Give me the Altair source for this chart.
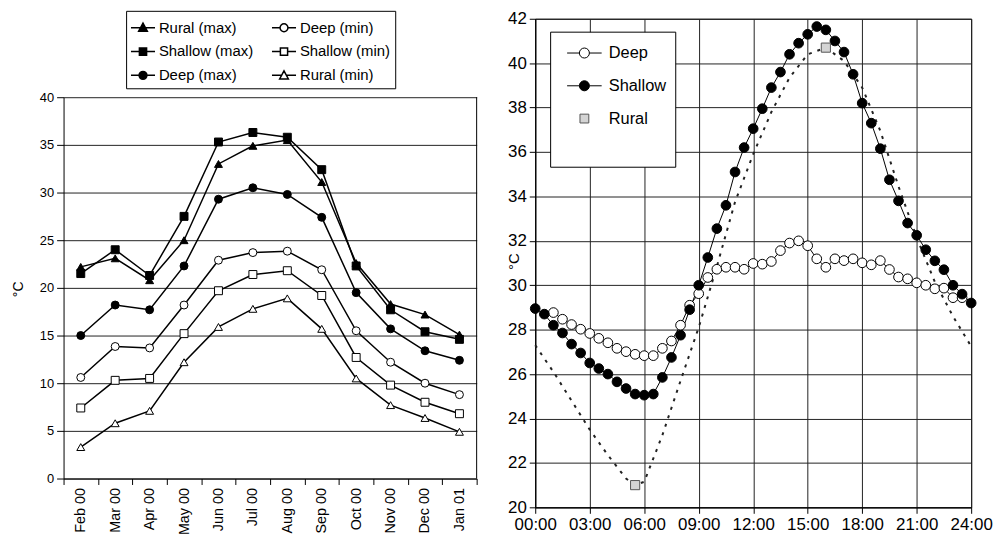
import altair as alt
import pandas as pd

# ---------------- Left chart data (monthly max / min, °C) ----------------
months = ["Feb 00", "Mar 00", "Apr 00", "May 00", "Jun 00", "Jul 00",
          "Aug 00", "Sep 00", "Oct 00", "Nov 00", "Dec 00", "Jan 01"]
rural_max = [22.2, 23.1, 20.8, 25.0, 33.0, 34.9, 35.5, 31.1, 22.6, 18.3, 17.2, 15.1]
shallow_max = [21.5, 24.0, 21.3, 27.5, 35.3, 36.3, 35.8, 32.4, 22.3, 17.7, 15.4, 14.6]
deep_max = [15.0, 18.2, 17.7, 22.3, 29.3, 30.5, 29.8, 27.4, 19.5, 15.7, 13.4, 12.4]
deep_min = [10.6, 13.85, 13.7, 18.2, 22.9, 23.7, 23.85, 21.9, 15.5, 12.2, 10.0, 8.8]
shallow_min = [7.4, 10.3, 10.5, 15.2, 19.7, 21.4, 21.8, 19.2, 12.7, 9.8, 8.0, 6.8]
rural_min = [3.3, 5.8, 7.1, 12.2, 15.9, 17.8, 18.9, 15.7, 10.5, 7.7, 6.35, 4.9]

# legend fills column by column: first column = max series, second = min series
left_series = ["Rural (max)", "Shallow (max)", "Deep (max)",
               "Deep (min)", "Shallow (min)", "Rural (min)"]
left_values = {
    "Rural (max)": rural_max, "Shallow (max)": shallow_max, "Deep (max)": deep_max,
    "Deep (min)": deep_min, "Shallow (min)": shallow_min, "Rural (min)": rural_min,
}
left_shapes = ["triangle-up", "square", "circle", "circle", "square", "triangle-up"]
left_fills = ["black", "black", "black", "white", "white", "white"]

# legend symbols: marker with line segments on both sides (unit square -1..1)
tri_f = "M-1.1,0L-0.2,0M0.2,0L1.1,0M0,-0.42L0.4,0.33L-0.4,0.33Z"
tri_h = "M-1.1,0L-0.22,0M0.22,0L1.1,0M0,-0.42L0.4,0.33L-0.4,0.33Z"
cir = ("M-1.1,0L-0.36,0M0.36,0L1.1,0M0.36,0A0.36,0.36,0,1,1,-0.36,0"
       "A0.36,0.36,0,1,1,0.36,0Z")
sq = "M-1.1,0L-0.33,0M0.33,0L1.1,0M-0.33,-0.33L0.33,-0.33L0.33,0.33L-0.33,0.33Z"
left_legend_paths = [tri_f, sq, cir, cir, sq, tri_h]

# ---------------- Right chart data (half-hourly, °C) ----------------
shallow_hours = [i * 0.5 for i in range(0, 49)]
shallow_temp = [28.95, 28.7, 28.2, 27.85, 27.35, 26.95, 26.5, 26.25, 26.0, 25.65,
                25.35, 25.1, 25.05, 25.1, 25.85, 26.75, 27.75, 28.9, 30.0, 31.25,
                32.55, 33.6, 35.1, 36.2, 37.05, 37.95, 38.9, 39.6, 40.4, 40.9,
                41.3, 41.65, 41.5, 41.0, 40.5, 39.5, 38.2, 37.3, 36.15, 34.75,
                33.8, 32.8, 32.25, 31.6, 31.1, 30.7, 30.0, 29.6, 29.2]
deep_hours = [i * 0.5 for i in range(2, 48)]
deep_temp = [28.77, 28.47, 28.23, 28.02, 27.83, 27.61, 27.41, 27.16, 27.01, 26.89,
             26.83, 26.83, 27.16, 27.49, 28.2, 29.1, 29.62, 30.35, 30.72, 30.81,
             30.81, 30.72, 30.98, 30.95, 31.07, 31.56, 31.9, 32.0, 31.78, 31.19,
             30.81, 31.19, 31.11, 31.19, 31.01, 30.92, 31.11, 30.71, 30.37, 30.29,
             30.11, 30.0, 29.84, 29.87, 29.44, 29.44]
rural_curve_hours = [0, 1, 2, 3, 4, 5, 5.5, 6, 7, 8, 9, 10, 11, 12, 13, 14, 15, 16,
                     17, 18, 19, 20, 21, 22, 23, 24]
rural_curve_temp = [27.3, 26.1, 24.8, 23.5, 22.35, 21.3, 21.0, 21.15, 23.25, 25.7,
                    28.1, 30.85, 33.75, 35.9, 37.8, 39.35, 40.4, 40.7, 40.1, 38.9,
                    36.95, 34.45, 32.15, 30.15, 28.6, 27.25]
rural_mark_hours = [5.5, 16.0]
rural_mark_temp = [21.0, 40.7]

right_series = ["Deep", "Shallow", "Rural"]
r_cir = ("M-1.45,0L-0.42,0M0.42,0L1.45,0M0.42,0A0.42,0.42,0,1,1,-0.42,0"
         "A0.42,0.42,0,1,1,0.42,0Z")
r_sq = "M-0.37,-0.37L0.37,-0.37L0.37,0.37L-0.37,0.37Z"

FONT = "Liberation Sans"

# ---------------- Left chart ----------------
rows = []
for s in left_series:
    for m, v in zip(months, left_values[s]):
        rows.append({"month": m, "series": s, "value": v})
left_df = pd.DataFrame(rows)
frame_df = pd.DataFrame({"month": [months[-1]], "lo": [0], "hi": [40]})

LH = 463          # plot area height (shared top with right panel)
y_top = 79        # pixel position of 40 °C inside left plot area

lx = alt.X("month:N", sort=months, bandPosition=0.5,
           scale=alt.Scale(type="band", domain=months, paddingInner=0, paddingOuter=0),
           axis=alt.Axis(title=None, labelAngle=-90, tickBand="extent", grid=False,
                         labelFontSize=14.5, labelFont=FONT, labelColor="black",
                         tickSize=6, labelPadding=3, domainColor="black", tickColor="black"))
ly = alt.Y("value:Q", scale=alt.Scale(domain=[0, 40], nice=False, range=[LH, y_top]),
           axis=alt.Axis(title="°C", values=list(range(0, 41, 5)), grid=True,
                         gridColor="#222", gridWidth=1, labelFontSize=13, labelFont=FONT,
                         labelColor="black", tickSize=7, labelPadding=3,
                         titleFontSize=14, titleFont=FONT, titleFontWeight="normal",
                         titleColor="black", titleX=-38, titleY=272,
                         domainColor="black", tickColor="black"))

left_lines = alt.Chart(left_df).mark_line(color="black", strokeWidth=1.5).encode(
    x=lx, y=ly, detail="series:N")

left_point_layers = []
for s, shp, fl in zip(left_series, left_shapes, left_fills):
    left_point_layers.append(
        alt.Chart(left_df).transform_filter(alt.datum.series == s).mark_point(
            shape=shp, filled=True, fill=fl, size=64, stroke="black",
            strokeWidth=1, opacity=1).encode(x=lx, y=ly))

# right-hand border of the plot frame (from 0 to 40 °C at the end of the last month)
left_frame = alt.Chart(frame_df).mark_rule(color="black", strokeWidth=1).encode(
    x=alt.X("month:N", sort=months, bandPosition=1), y=alt.Y("lo:Q"), y2="hi:Q")

left_leg = alt.Legend(orient="none", legendX=63, legendY=-8, columns=2, title=None,
                      strokeColor="black", fillColor="white", padding=5, rowPadding=4,
                      columnPadding=14, symbolSize=484, symbolStrokeWidth=1.5,
                      labelFontSize=15, labelFont=FONT, labelColor="black", labelOffset=4,
                      labelLimit=200)
left_legend_layer = alt.Chart(left_df).mark_point(
    filled=True, strokeWidth=1.5, opacity=1).encode(
    x=lx, y=ly,
    shape=alt.Shape("series:N", scale=alt.Scale(domain=left_series, range=left_legend_paths),
                    legend=left_leg),
    fill=alt.Fill("series:N", scale=alt.Scale(domain=left_series, range=left_fills),
                  legend=left_leg),
    stroke=alt.Stroke("series:N", scale=alt.Scale(domain=left_series, range=["black"] * 6),
                      legend=left_leg)).transform_filter("false")

left = alt.layer(left_lines, *left_point_layers, left_frame, left_legend_layer).resolve_scale(
    shape="independent", fill="independent", stroke="independent").properties(
    width=416, height=LH, view=alt.ViewConfig(stroke=None))

# ---------------- Right chart ----------------
rrows = []
for h, v in zip(deep_hours, deep_temp):
    rrows.append({"hour": h, "temp": v, "series": "Deep"})
for h, v in zip(shallow_hours, shallow_temp):
    rrows.append({"hour": h, "temp": v, "series": "Shallow"})
right_df = pd.DataFrame(rrows)
curve_df = pd.DataFrame({"hour": rural_curve_hours, "temp": rural_curve_temp})
marks_df = pd.DataFrame({"hour": rural_mark_hours, "temp": rural_mark_temp, "series": "Rural"})

rx = alt.X("hour:Q", scale=alt.Scale(domain=[0, 24], nice=False),
           axis=alt.Axis(title=None, values=list(range(0, 25, 3)),
                         labelExpr="(datum.value < 10 ? '0' : '') + datum.value + ':00'",
                         grid=True, gridColor="#222", gridWidth=1, labelFontSize=17,
                         labelFont=FONT, labelColor="black", tickSize=6, labelPadding=3,
                         domainColor="black", tickColor="black", labelFlush=False))
ry = alt.Y("temp:Q", scale=alt.Scale(domain=[20, 42], nice=False, zero=False),
           axis=alt.Axis(title="°C", values=list(range(20, 43, 2)), grid=True,
                         gridColor="#222", gridWidth=1, labelFontSize=17, labelFont=FONT,
                         labelColor="black", tickSize=6, labelPadding=3,
                         titleFontSize=15, titleFont=FONT, titleFontWeight="normal",
                         titleColor="black", titleX=-14, titleY=244,
                         domainColor="black", tickColor="black"))

rural_line = alt.Chart(curve_df).mark_line(
    color="#222", strokeWidth=2, strokeDash=[3, 6]).encode(x=rx, y=ry)
r_lines = alt.Chart(right_df).mark_line(color="black", strokeWidth=1).encode(
    x=rx, y=ry, detail="series:N")
r_points = alt.Chart(right_df).mark_point(
    filled=True, size=95, stroke="black", strokeWidth=1, opacity=1).encode(
    x=rx, y=ry,
    fill=alt.Fill("series:N", scale=alt.Scale(domain=["Deep", "Shallow"], range=["white", "black"]),
                  legend=None))
r_rural = alt.Chart(marks_df).mark_point(
    shape="square", filled=True, fill="#d4d4d4", stroke="#555", strokeWidth=1,
    size=85, opacity=1).encode(x=rx, y=ry)

right_leg = alt.Legend(orient="none", legendX=15, legendY=13, title="\u200b",
                       titleOrient="bottom", titleFontSize=22, titlePadding=10,
                       strokeColor="black", fillColor="white", padding=9, rowPadding=12,
                       symbolSize=576, symbolStrokeWidth=1, symbolOffset=13,
                       labelFontSize=16.5, labelFont=FONT, labelColor="black",
                       labelOffset=12, labelLimit=200)
r_legend_layer = alt.Chart(marks_df).mark_point(
    filled=True, strokeWidth=1, opacity=1).encode(
    x=rx, y=ry,
    shape=alt.Shape("series:N", scale=alt.Scale(domain=right_series, range=[r_cir, r_cir, r_sq]),
                    legend=right_leg),
    fill=alt.Fill("series:N", scale=alt.Scale(domain=right_series,
                                              range=["white", "black", "#d4d4d4"]),
                  legend=right_leg),
    stroke=alt.Stroke("series:N", scale=alt.Scale(domain=right_series,
                                                  range=["black", "black", "#555"]),
                      legend=right_leg)).transform_filter("false")

right = alt.layer(rural_line, r_lines, r_points, r_rural, r_legend_layer).resolve_scale(
    shape="independent", fill="independent", stroke="independent").properties(
    width=439, height=492, view=alt.ViewConfig(stroke="black", strokeWidth=1))

chart = alt.hconcat(left, right, spacing=28).properties(
    padding={"left": 12, "top": 7, "right": 2, "bottom": 2}
).configure(font=FONT)

chart.save("out.html", embed_options={"renderer": "svg", "actions": False})
